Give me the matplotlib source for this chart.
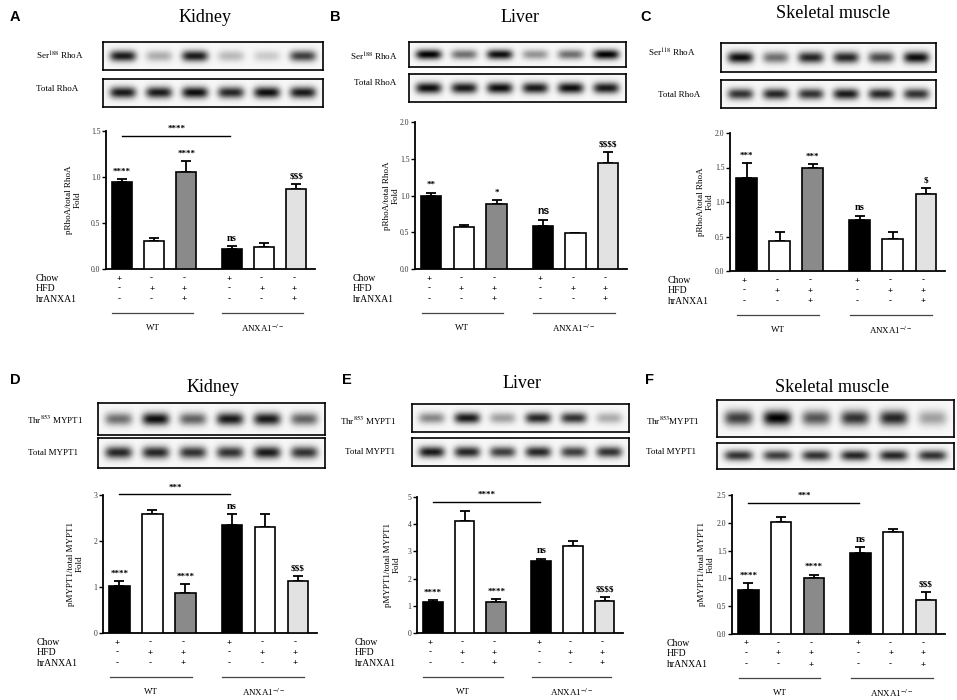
import numpy as np
import matplotlib
matplotlib.use('Agg')
import matplotlib.pyplot as plt
from matplotlib import transforms

plt.rcParams['font.family'] = ['Liberation Serif', 'DejaVu Serif']
plt.rcParams['mathtext.fontset'] = 'stix'

# ---------------- data ----------------
conditions = ['Chow', 'HFD', 'hrANXA1']
chow_signs = ['+', '-', '-', '+', '-', '-']
hfd_signs = ['-', '+', '+', '-', '+', '+']
hr_signs = ['-', '-', '+', '-', '-', '+']
group_names = ['WT', 'ANXA1$^{-/-}$']
titles = ['Kidney', 'Liver', 'Skeletal muscle', 'Kidney', 'Liver', 'Skeletal muscle']
letters = ['A', 'B', 'C', 'D', 'E', 'F']
ylabels = ['pRhoA/total RhoA\nFold'] * 3 + ['pMYPT1/total MYPT1\nFold'] * 3
blot_names = [['Ser$^{188}$ RhoA', 'Total RhoA'],
              ['Ser$^{188}$ RhoA', 'Total RhoA'],
              ['Ser$^{118}$ RhoA', 'Total RhoA'],
              ['Thr$^{853}$ MYPT1', 'Total MYPT1'],
              ['Thr$^{853}$ MYPT1', 'Total MYPT1'],
              ['Thr$^{853}$MYPT1', 'Total MYPT1']]

A_mean = [0.95, 0.30, 1.05, 0.22, 0.24, 0.87]
A_err = [0.03, 0.04, 0.12, 0.03, 0.04, 0.05]
B_mean = [1.00, 0.57, 0.89, 0.59, 0.49, 1.44]
B_err = [0.04, 0.03, 0.05, 0.08, 0.00, 0.15]
C_mean = [1.35, 0.44, 1.50, 0.74, 0.47, 1.12]
C_err = [0.21, 0.13, 0.05, 0.06, 0.09, 0.08]
D_mean = [1.02, 2.58, 0.87, 2.34, 2.31, 1.13]
D_err = [0.10, 0.10, 0.20, 0.24, 0.27, 0.11]
E_mean = [1.13, 4.12, 1.13, 2.63, 3.21, 1.16]
E_err = [0.09, 0.35, 0.12, 0.10, 0.19, 0.17]
F_mean = [0.79, 2.02, 1.00, 1.46, 1.84, 0.62]
F_err = [0.12, 0.08, 0.07, 0.10, 0.05, 0.13]
means = [A_mean, B_mean, C_mean, D_mean, E_mean, F_mean]
errs = [A_err, B_err, C_err, D_err, E_err, F_err]

A_sig = ['****', '', '****', 'ns', '', r'\$\$\$']
B_sig = ['**', '', '*', 'ns', '', r'\$\$\$\$']
C_sig = ['***', '', '***', 'ns', '', r'\$']
D_sig = ['****', '', '****', 'ns', '', r'\$\$\$']
E_sig = ['****', '', '****', 'ns', '', r'\$\$\$\$']
F_sig = ['****', '', '****', 'ns', '', r'\$\$\$']
sigs = [A_sig, B_sig, C_sig, D_sig, E_sig, F_sig]

y_tops = [1.5, 2.0, 2.0, 3, 5, 2.5]
y_steps = [0.5, 0.5, 0.5, 1, 1, 0.5]
y_fmt = ['{:.1f}', '{:.1f}', '{:.1f}', '{:.0f}', '{:.0f}', '{:.1f}']
bracket_y = [1.45, None, None, 3.02, 4.82, 2.36]
bracket_txt = ['****', None, None, '***', '****', '***']

# band darkness per lane (phospho blot, total blot)
blot_A = [[0.90, 0.30, 0.90, 0.25, 0.18, 0.75], [0.90, 0.90, 0.95, 0.85, 0.95, 0.90]]
blot_B = [[1.00, 0.55, 0.95, 0.40, 0.55, 1.00], [0.95, 0.90, 0.95, 0.90, 0.95, 0.90]]
blot_C = [[0.95, 0.55, 0.85, 0.85, 0.70, 0.95], [0.80, 0.85, 0.80, 0.90, 0.85, 0.80]]
blot_D = [[0.55, 0.95, 0.60, 0.90, 0.90, 0.60], [0.85, 0.85, 0.80, 0.80, 0.90, 0.80]]
blot_E = [[0.45, 0.90, 0.35, 0.85, 0.80, 0.30], [0.90, 0.85, 0.75, 0.85, 0.75, 0.80]]
blot_F = [[0.75, 1.00, 0.65, 0.80, 0.85, 0.35], [0.80, 0.75, 0.80, 0.85, 0.85, 0.80]]
blots = [blot_A, blot_B, blot_C, blot_D, blot_E, blot_F]

bar_colors = ['black', 'white', '#8a8a8a', 'black', 'white', '#e2e2e2']
xpos = [0, 1, 2, 3.42, 4.42, 5.42]

# ---------------- layout (pixels) ----------------
W, H = 957, 700
layout = [
    dict(ax=(106, 315, 131, 269), b1=(103, 42, 323, 70), b2=(103, 79, 323, 107),
         bl=[(36, 56), (36, 89)], yl=73, cl=36, title=(205, 18), letter=(15, 17)),
    dict(ax=(415, 627, 122, 269), b1=(409, 42, 626, 67), b2=(409, 74, 626, 102),
         bl=[(350, 57), (354, 83)], yl=391, cl=353, title=(520, 18), letter=(335, 17)),
    dict(ax=(730, 945, 133, 271), b1=(721, 43, 936, 72), b2=(721, 80, 936, 108),
         bl=[(648, 53), (658, 95)], yl=705, cl=668, title=(833, 13), letter=(646, 17)),
    dict(ax=(103, 317, 495, 633), b1=(98, 403, 325, 435), b2=(98, 438, 325, 468),
         bl=[(27, 420), (28, 453)], yl=75, cl=37, title=(213, 388), letter=(15, 380)),
    dict(ax=(417, 623, 497, 633), b1=(412, 404, 629, 432), b2=(412, 438, 629, 466),
         bl=[(340, 421), (345, 452)], yl=392, cl=355, title=(522, 383), letter=(347, 380)),
    dict(ax=(732, 945, 495, 634), b1=(717, 400, 954, 437), b2=(717, 443, 954, 469),
         bl=[(646, 421), (646, 452)], yl=706, cl=667, title=(832, 388), letter=(650, 380)),
]


def frac(l, t, r, b):
    return [l / W, 1 - b / H, (r - l) / W, (b - t) / H]


def blot_image(intens, lanes):
    x = np.linspace(0, 1, 400)
    y = np.linspace(0, 1, 80)
    X, Y = np.meshgrid(x, y)
    img = np.full_like(X, 0.97)
    for xi, a in zip(lanes, intens):
        img -= a * 0.97 * np.exp(-((X - xi) / 0.06) ** 4 - ((Y - 0.5) / 0.2) ** 2)
    return np.clip(img, 0, 1)


fig = plt.figure(figsize=(W / 100, H / 100), dpi=100)
ov = fig.add_axes([0, 0, 1, 1], zorder=0)
ov.set_xlim(0, W)
ov.set_ylim(H, 0)
ov.axis('off')

lanes = np.linspace(0.09, 0.91, 6)

for i in range(6):
    L = layout[i]
    l, r, t, b = L['ax']
    ax = fig.add_axes(frac(l, t, r, b), zorder=2)
    ax.patch.set_alpha(0)
    m = np.array(means[i])
    e = np.array(errs[i])
    ax.bar(xpos, m, width=0.62, color=bar_colors, edgecolor='black', linewidth=1.2, zorder=3)
    ax.errorbar(xpos, m, yerr=[np.zeros(6), e], fmt='none', ecolor='black',
                elinewidth=1.3, capsize=3.5, capthick=1.3, zorder=2)
    ax.set_xlim(-0.5, 6.0)
    ax.set_ylim(0, y_tops[i])
    ticks = np.arange(0, y_tops[i] + 1e-9, y_steps[i])
    ax.set_yticks(ticks)
    ax.set_yticklabels([y_fmt[i].format(v) for v in ticks])
    ax.set_xticks([])
    for s in ['top', 'right']:
        ax.spines[s].set_visible(False)
    for s in ['left', 'bottom']:
        ax.spines[s].set_linewidth(1.3)
    ax.tick_params(axis='y', direction='out', length=3, width=1, labelsize=5.5,
                   labelcolor='#333333', pad=1)

    # significance marks
    for k in range(6):
        s = sigs[i][k]
        if not s:
            continue
        if s == 'ns' and i == 1:
            fam, fs = 'Liberation Sans', 7.5
        elif s == 'ns':
            fam, fs = 'Liberation Serif', 7.5
        else:
            fam, fs = 'Liberation Serif', 6.5
        ax.annotate(s, (xpos[k], m[k] + e[k]), xytext=(0, 2.5), textcoords='offset points',
                    ha='center', va='bottom', fontsize=fs, fontweight='bold', family=fam,
                    annotation_clip=False)

    # bracket
    if bracket_y[i] is not None:
        ax.plot([xpos[0], xpos[3] - 0.05], [bracket_y[i]] * 2, color='black', lw=1.0,
                clip_on=False)
        ax.annotate(bracket_txt[i], ((xpos[0] + xpos[3]) / 2, bracket_y[i]), xytext=(0, 2),
                    textcoords='offset points', ha='center', va='bottom', fontsize=6.5,
                    fontweight='bold', annotation_clip=False)

    # condition rows
    tr = transforms.blended_transform_factory(ax.transData, ov.transData)
    rows_y = [b + 9.5, b + 19.5, b + 30.5]
    for sign_list, name, yy in zip([chow_signs, hfd_signs, hr_signs], conditions, rows_y):
        ov.text(L['cl'], yy, name, ha='left', va='center', fontsize=7)
        for k in range(6):
            ax.text(xpos[k] - 0.08, yy, sign_list[k], transform=tr, ha='center', va='center',
                    fontsize=6.5, fontweight='bold', clip_on=False)
    gy = b + 43.5
    for g, (a0, a1) in enumerate([(0, 2), (3, 5)]):
        ax.plot([xpos[a0] - 0.3, xpos[a1] + 0.2], [gy, gy], transform=tr, color='#444444',
                lw=0.9, clip_on=False)
        ax.text((xpos[a0] + xpos[a1]) / 2 - 0.05, b + 59, group_names[g], transform=tr,
                ha='center', va='center', fontsize=6.5, clip_on=False)

    # y label
    ov.text(L['yl'], (t + b) / 2, ylabels[i], rotation=90, ha='center', va='center',
            fontsize=6.5, linespacing=1.1)

    # title and letter
    ov.text(L['title'][0], L['title'][1], titles[i], ha='center', va='center', fontsize=13)
    ov.text(L['letter'][0], L['letter'][1], letters[i], ha='center', va='center',
            fontsize=10.5, fontweight='bold', family='Liberation Sans')

    # blots
    for j, key in enumerate(['b1', 'b2']):
        bl, bt, br, bb = L[key]
        bax = fig.add_axes(frac(bl, bt, br, bb), zorder=2)
        bax.imshow(blot_image(blots[i][j], lanes), cmap='gray', vmin=0, vmax=1,
                   extent=(0, 1, 0, 1), aspect='auto', interpolation='bilinear')
        bax.set_xticks([])
        bax.set_yticks([])
        for s in bax.spines.values():
            s.set_linewidth(1.2)
        ov.text(L['bl'][j][0], L['bl'][j][1], blot_names[i][j], ha='left', va='center',
                fontsize=6.5)

fig.savefig('out.png', dpi=100)
